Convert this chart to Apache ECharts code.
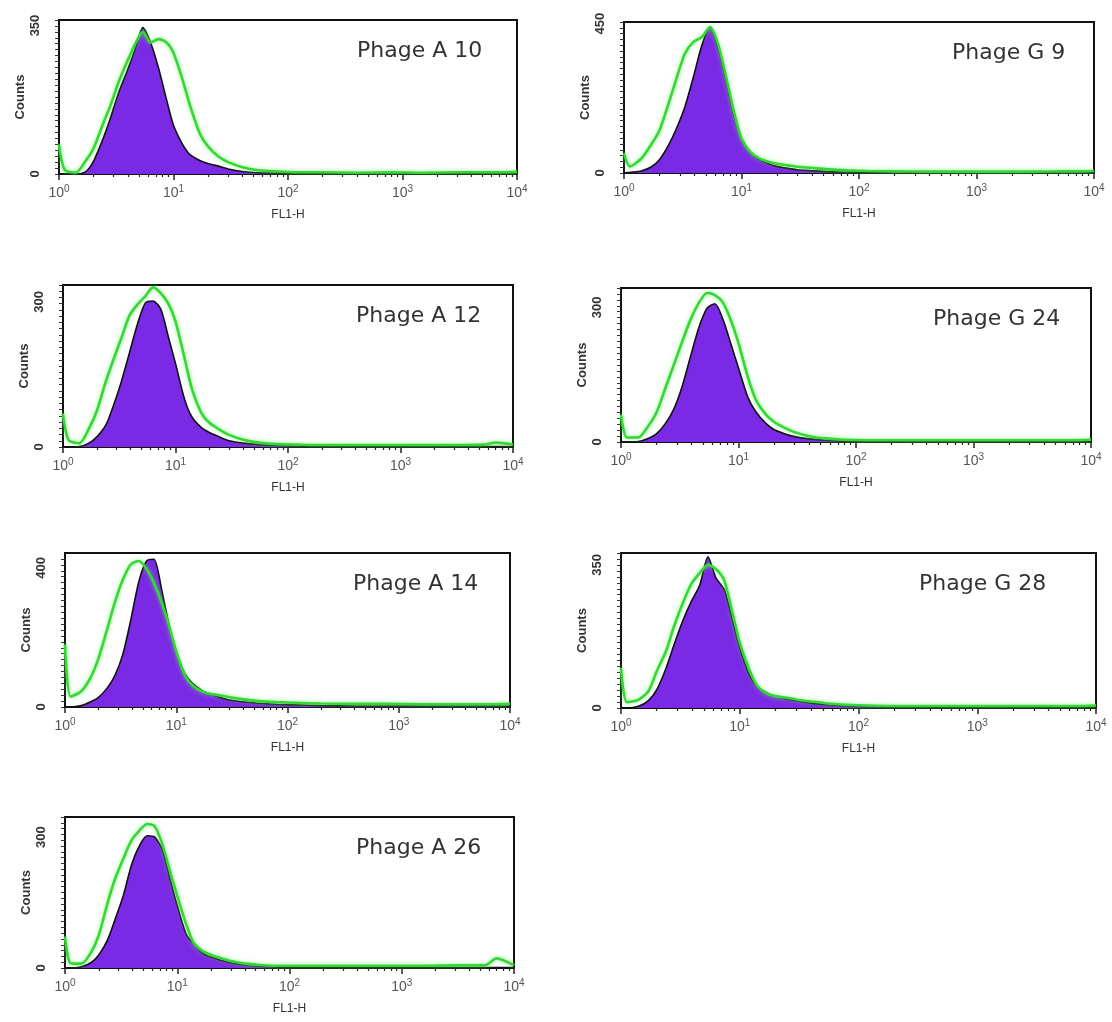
<!DOCTYPE html>
<html><head><meta charset="utf-8">
<script src="https://cdn.jsdelivr.net/npm/echarts@6/dist/echarts.min.js"></script>
<style>html,body{margin:0;padding:0;background:#fff}#c{width:1112px;height:1022px}</style>
</head><body><div id="c"></div>
<script>
// FL1-H channel positions (shared by all histograms)
const fl1 = [1, 1.12, 1.4, 1.7, 2, 2.4, 2.8, 3.3, 3.9, 4.6, 5.4, 6.3, 7.4, 8.7, 10, 12, 14, 17, 20, 25, 30, 40, 55, 80, 120, 200, 400, 800, 1500, 3000, 5500, 7000, 10000];

const panelNames = ['Phage A 10', 'Phage G 9', 'Phage A 12', 'Phage G 24', 'Phage A 14', 'Phage G 28', 'Phage A 26'];
const countLabel = [350, 450, 300, 300, 400, 350, 300];
const countMax = [363, 455, 335, 343, 443, 379, 346];

// purple filled histograms (control)
const controlA10 = [0,0,0,5,30,80,130,190,240,292,345,310,250,175,115,70,45,32,25,18,12,6,3,2,1,1,1,1,1,1,1,1,1];
const controlG9  = [0,2,6,18,40,85,135,200,290,385,440,380,280,170,105,60,42,28,20,14,10,7,4,3,2,1,1,1,1,1,1,1,1];
const controlA12 = [0,0,1,8,21,45,85,135,195,255,298,302,285,225,173,100,62,40,30,20,13,8,5,3,2,1,1,1,1,1,1,1,1];
const controlG24 = [0,0,1,8,18,42,72,122,190,255,298,308,272,215,165,100,68,42,28,18,12,7,4,2,1,1,1,1,1,1,1,1,1];
const controlA14 = [0,0,4,15,28,55,90,150,250,360,420,425,337,230,160,95,68,48,38,27,20,15,11,8,6,4,3,3,3,3,3,3,3];
const controlG28 = [0,0,4,18,45,98,155,212,260,300,370,318,290,215,148,82,52,37,29,22,18,12,8,5,3,2,1,1,1,1,1,1,1];
const controlA26 = [0,0,3,12,30,65,112,165,235,280,303,300,270,200,143,78,55,33,25,17,12,7,4,2,1,1,1,1,1,1,1,1,1];

// green line histograms (phage)
const phageA10 = [70,10,3,30,60,115,160,215,262,305,335,310,318,310,285,222,160,95,65,40,28,16,9,6,4,4,3,4,3,4,4,4,5];
const phageG9  = [60,20,43,85,128,210,285,360,395,410,440,390,290,180,105,62,45,34,28,23,19,15,11,8,6,5,4,4,4,4,5,5,6];
const phageA12 = [69,14,8,38,75,135,180,225,272,295,312,330,318,295,260,185,120,70,50,35,25,15,9,6,5,4,4,4,4,4,5,9,5];
const phageG24 = [61,10,10,35,65,122,170,222,272,310,332,327,310,268,220,145,95,62,45,31,22,13,8,5,4,4,4,4,4,4,4,4,5];
const phageA14 = [180,30,45,85,140,225,300,365,410,420,398,357,300,230,160,90,62,45,38,33,28,22,17,14,12,10,9,9,8,8,8,8,9];
const phageG28 = [98,14,20,41,90,140,200,255,303,330,350,340,312,232,160,95,55,35,29,25,21,16,11,8,6,5,5,5,5,5,5,5,6];
const phageA26 = [72,11,10,35,75,150,205,250,292,315,330,325,282,218,165,100,58,38,30,22,16,10,7,5,5,5,5,5,5,6,6,22,6];

const control = [controlA10, controlG9, controlA12, controlG24, controlA14, controlG28, controlA26];
const phage = [phageA10, phageG9, phageA12, phageG24, phageA14, phageG28, phageA26];

// panel boxes (pixels) and title left edges
const boxes = [
  {l: 59, r: 517, t: 20, b: 174, tx: 357},
  {l: 624, r: 1094, t: 22, b: 173, tx: 952},
  {l: 63, r: 513, t: 285, b: 447, tx: 356},
  {l: 621, r: 1091, t: 288, b: 442, tx: 933},
  {l: 65, r: 510, t: 553, b: 707, tx: 353},
  {l: 621, r: 1096, t: 553, b: 708, tx: 919},
  {l: 65, r: 514, t: 817, b: 968, tx: 356}
];

const minorX = [];
[1, 10, 100, 1000].forEach(d => { for (let k = 2; k <= 9; k++) minorX.push(k * d); });

const grids = [], xAxes = [], yAxes = [], series = [], titles = [];
boxes.forEach((bx, i) => {
  grids.push({left: bx.l, top: bx.t, width: bx.r - bx.l, height: bx.b - bx.t,
    show: true, borderColor: '#111', borderWidth: 2, backgroundColor: '#fff',
    containLabel: false, outerBoundsMode: 'none'});
  xAxes.push({type: 'log', logBase: 10, min: 1, max: 10000, gridIndex: i, position: 'bottom',
    name: 'FL1-H', nameLocation: 'middle', nameGap: 35,
    nameTextStyle: {fontSize: 12, color: '#333', fontFamily: 'Liberation Sans'},
    axisLine: {show: true, lineStyle: {color: '#111', width: 2}},
    axisTick: {show: true, length: 6, lineStyle: {color: '#222', width: 1.5}},
    splitLine: {show: false}, minorTick: {show: false},
    axisLabel: {show: true, margin: 10, color: '#555', fontFamily: 'Liberation Sans',
      formatter: v => '{b|10}{s|' + Math.round(Math.log10(v)) + '}',
      rich: {b: {fontSize: 14, lineHeight: 16, verticalAlign: 'bottom', color: '#555', fontFamily: 'Liberation Sans'},
             s: {fontSize: 10, lineHeight: 11, verticalAlign: 'top', color: '#555', fontFamily: 'Liberation Sans'}}}
  });
  xAxes.push({type: 'log', logBase: 10, min: 1, max: 10000, gridIndex: i, position: 'bottom',
    axisLine: {show: false}, splitLine: {show: false},
    axisLabel: {show: false},
    axisTick: {show: true, length: 3, customValues: minorX, lineStyle: {color: '#222', width: 1.2}}
  });
  const yt = [];
  const step = countMax[i] / 26;
  for (let k = 0; k <= 26; k++) yt.push(k * step);
  yAxes.push({type: 'value', min: 0, max: countMax[i], gridIndex: i,
    name: 'Counts', nameLocation: 'middle', nameGap: 32, nameRotate: 90,
    nameTextStyle: {fontSize: 13, fontWeight: 'bold', color: '#333', fontFamily: 'Liberation Sans'},
    axisLine: {show: true, lineStyle: {color: '#111', width: 2}},
    splitLine: {show: false},
    axisTick: {show: true, length: 4, customValues: yt, lineStyle: {color: '#333', width: 1}},
    axisLabel: {show: true, rotate: 90, margin: 17, customValues: [0, countLabel[i]],
      fontSize: 13, fontWeight: 'bold', color: '#333', fontFamily: 'Liberation Sans'}
  });
  series.push({type: 'line', name: 'control ' + panelNames[i], xAxisIndex: 2 * i, yAxisIndex: i,
    data: fl1.map((x, j) => [x, control[i][j]]), symbol: 'none', smooth: 0.25, z: 2,
    lineStyle: {color: '#111', width: 1.6},
    areaStyle: {color: '#7a2ae4', opacity: 1}
  });
  series.push({type: 'line', name: panelNames[i], xAxisIndex: 2 * i, yAxisIndex: i,
    data: fl1.map((x, j) => [x, phage[i][j]]), symbol: 'none', smooth: 0.25, z: 3,
    lineStyle: {color: '#35d735', width: 2.6, shadowColor: 'rgba(90,240,90,0.7)', shadowBlur: 4}
  });
  titles.push({text: panelNames[i], left: bx.tx, top: bx.t + 20, padding: 0,
    textStyle: {fontSize: 22, fontWeight: 'normal', color: '#333', fontFamily: 'DejaVu Sans'}});
});

const chart = echarts.init(document.getElementById('c'), null, {renderer: 'canvas'});
chart.setOption({
  backgroundColor: '#fff',
  animation: false,
  title: titles,
  grid: grids,
  xAxis: xAxes,
  yAxis: yAxes,
  series: series
});
</script>
</body></html>
